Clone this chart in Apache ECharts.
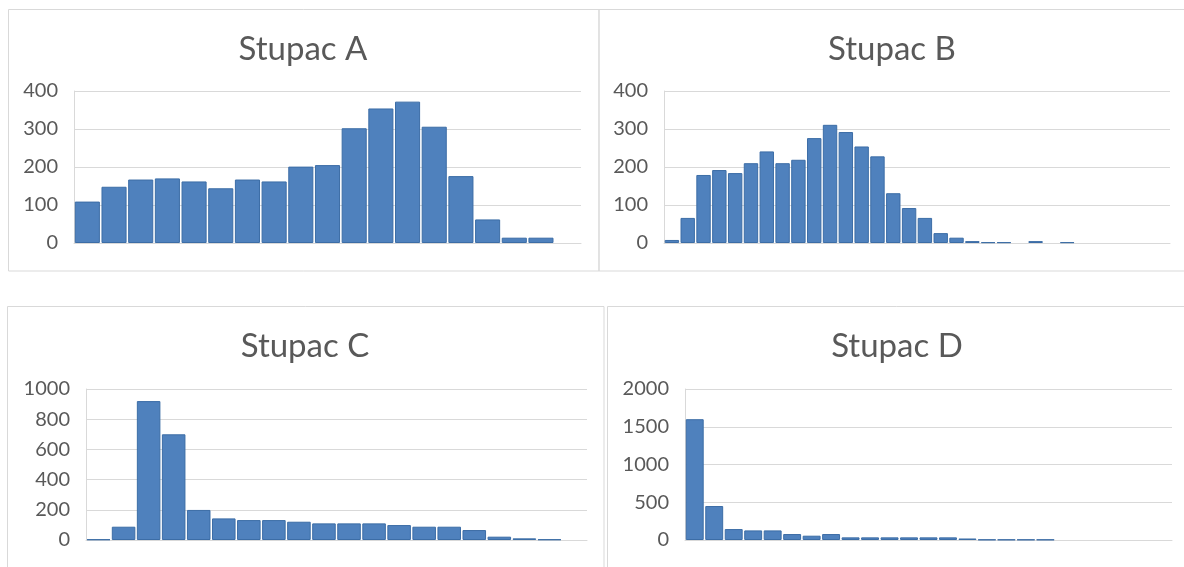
<!DOCTYPE html>
<html>
<head>
<meta charset="utf-8">
<script src="https://cdn.jsdelivr.net/npm/echarts@6/dist/echarts.min.js"></script>
<style>
html,body{margin:0;padding:0;background:#fff;}
#chart{width:1184px;height:567px;}
</style>
</head>
<body>
<div id="chart"></div>
<script>
// ---- Data ----
const titles = ['Stupac A', 'Stupac B', 'Stupac C', 'Stupac D'];

const binsA = Array.from({length: 19}, (_, i) => String(i + 1));
const valuesA = [109, 148, 167, 170, 162, 144, 167, 162, 201, 205, 302, 354, 372, 306, 176, 62, 14, 14, 0];

const binsB = Array.from({length: 32}, (_, i) => String(i + 1));
const valuesB = [8, 66, 179, 192, 184, 210, 241, 210, 219, 276, 311, 292, 254, 228, 131, 92, 66, 26, 14, 5, 2, 2, 0, 5, 0, 2, 0, 0, 0, 0, 0, 0];

const binsC = Array.from({length: 20}, (_, i) => String(i + 1));
const valuesC = [4, 88, 920, 700, 199, 143, 132, 132, 121, 110, 110, 110, 99, 88, 88, 66, 22, 11, 4, 0];

const binsD = Array.from({length: 25}, (_, i) => String(i + 1));
const valuesD = [1600, 450, 145, 127, 127, 79, 57, 79, 35, 35, 35, 35, 35, 35, 20, 5, 5, 5, 5, 0, 0, 0, 0, 0, 0];

const yMaxes = [400, 400, 1000, 2000];
const yIntervals = [100, 100, 200, 500];

// ---- Layout ----
const grids = [
  {left: 74, top: 91, width: 507, height: 152},
  {left: 664, top: 91, width: 506, height: 152},
  {left: 86, top: 389, width: 501, height: 151},
  {left: 685, top: 389, width: 487, height: 151}
];
const panels = [
  {x: 8.5, y: 9.5, w: 590.5, h: 261.5},
  {x: 599, y: 9.5, w: 620, h: 261.5},
  {x: 7.5, y: 306.5, w: 596.5, h: 300},
  {x: 607.5, y: 306.5, w: 620, h: 300}
];
const titlePos = [
  {x: 298, y: 28},
  {x: 887, y: 28},
  {x: 300, y: 325},
  {x: 892, y: 325}
];
const gaps = ['6%', '9%', '6%', '8%'];

const cats = [binsA, binsB, binsC, binsD];
const vals = [valuesA, valuesB, valuesC, valuesD];

const FONT = 'Lato, "Open Sans", sans-serif';
const TXT = '#595959';
const LINE = '#d9d9d9';

const option = {
  animation: false,
  backgroundColor: '#ffffff',
  graphic: panels.map(p => ({
    type: 'rect',
    shape: {x: p.x, y: p.y, width: p.w, height: p.h},
    style: {fill: 'none', stroke: LINE, lineWidth: 1},
    silent: true
  })),
  title: titles.map((t, i) => ({
    text: t,
    left: titlePos[i].x,
    top: titlePos[i].y,
    textAlign: 'center',
    textStyle: {fontFamily: FONT, fontSize: 33, fontWeight: 'normal', color: TXT}
  })),
  grid: grids.map(g => Object.assign({containLabel: false}, g)),
  xAxis: cats.map((c, i) => ({
    type: 'category',
    gridIndex: i,
    data: c,
    axisLine: {show: true, lineStyle: {color: LINE, width: 1}},
    axisTick: {show: false},
    axisLabel: {show: false},
    splitLine: {show: false}
  })),
  yAxis: yMaxes.map((m, i) => ({
    type: 'value',
    gridIndex: i,
    min: 0,
    max: m,
    interval: yIntervals[i],
    axisLine: {show: true, lineStyle: {color: LINE, width: 1}},
    axisTick: {show: false},
    axisLabel: {fontFamily: FONT, fontSize: 20, color: TXT, margin: 16, formatter: v => String(v)},
    splitLine: {show: true, lineStyle: {color: LINE, width: 1}}
  })),
  series: vals.map((v, i) => ({
    type: 'bar',
    xAxisIndex: i,
    yAxisIndex: i,
    // empty bins (0) draw nothing, like the reference
    data: v.map(x => (x === 0 ? null : x)),
    barCategoryGap: gaps[i],
    itemStyle: {color: '#4f81bd', borderColor: '#3c6da6', borderWidth: 1},
    silent: true
  }))
};

const chart = echarts.init(document.getElementById('chart'), null, {renderer: 'canvas'});
chart.setOption(option);
</script>
</body>
</html>
